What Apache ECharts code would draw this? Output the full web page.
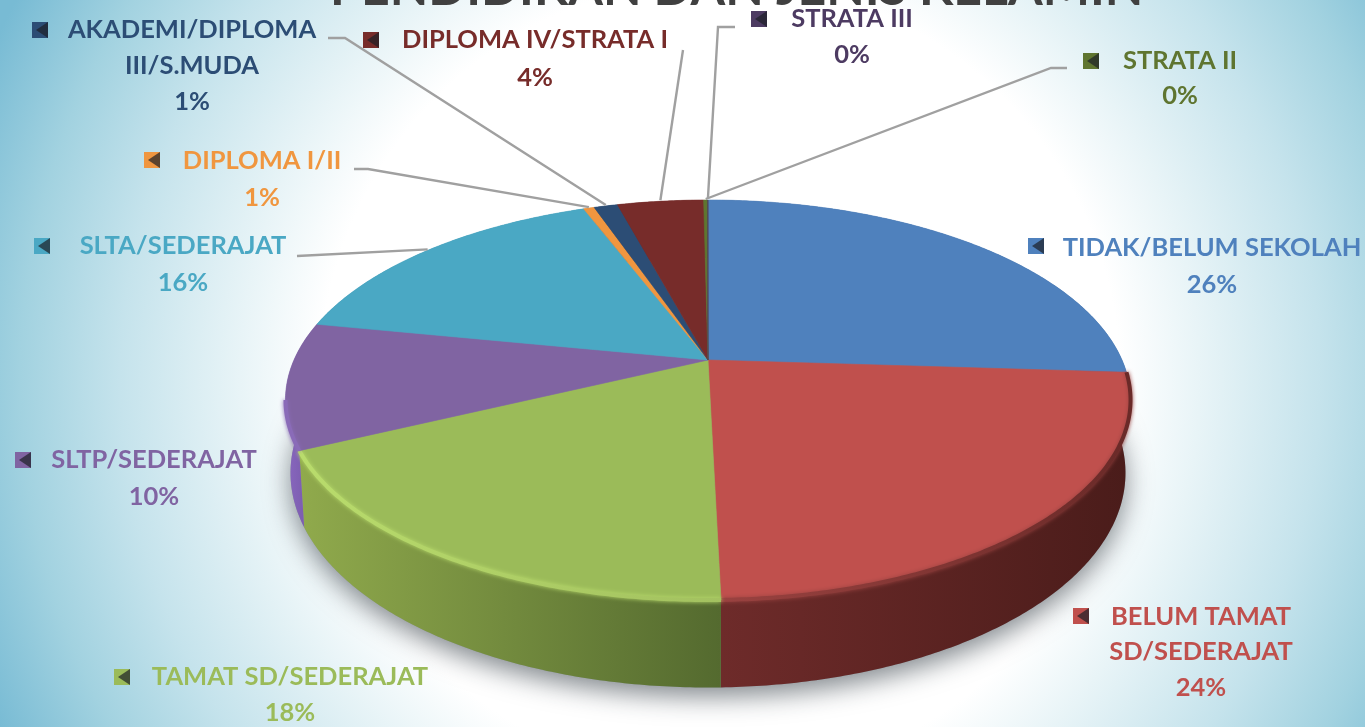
<!DOCTYPE html>
<html>
<head>
<meta charset="utf-8">
<style>
html,body{margin:0;padding:0;overflow:hidden;background:#fff}
#main{width:1365px;height:727px;filter:blur(0.6px)}
</style>
<script src="https://cdn.jsdelivr.net/npm/echarts@6/dist/echarts.min.js"></script>
</head>
<body>
<div id="main"></div>
<script>
// ---- data ----
var titleText = 'PENDIDIKAN DAN JENIS KELAMIN';
var categories = ['TIDAK/BELUM SEKOLAH','BELUM TAMAT\nSD/SEDERAJAT','TAMAT SD/SEDERAJAT','SLTP/SEDERAJAT','SLTA/SEDERAJAT','DIPLOMA I/II','AKADEMI/DIPLOMA\nIII/S.MUDA','DIPLOMA IV/STRATA I','STRATA II','STRATA III'];
var values = [26.0,23.6,18.3,10.2,16.1,0.5,1.1,4.0,0.19,0.01];
var colors = ['#4f81bd','#c0504d','#9bbb59','#8064a2','#4aa8c4','#f0963f','#2c4d75','#772c2a','#5f7530','#4d3b62'];
var wallColors = [['#3a5f8e','#3a5f8e'],['#6e2b2a','#4a1c1a'],['#90aa4c','#546a2f'],['#8a68c0','#6f53a0'],['#3b8aa0','#3b8aa0'],['#c77a34','#c77a34'],['#223c5c','#223c5c'],['#5c2220','#5c2220'],['#4a5b25','#4a5b25'],['#3c2e4d','#3c2e4d']];
var rimStops = [null,['#9a4240','#6a2a28'],['#b9dc6c','#a3c160'],['#8a6bb8','#8a6bb8'],null,null,null,null,null,null];

// ---- layout ----
var W = 1365, H = 727;
var CX = 708, CY = 360, RX = 414, RY = 192, PERSP = 0.2, DEPTH = 70, BOTTOM_SHRINK = 0.012;
var keyPos = [[1036,246],[1081,616],[122,677],[23,460],[42,246],[152,160],[40,30],[371,40],[1091,61],[759,19]];
var textCx = [1212,1201,290,154,183,262,192,535,1180,852];
var lineYs = [[248,285],[617,652,688],[677,713],[460,497],[246,283],[161,198],[30,66,102],[40,78],[61,96],[19,55]];
var leaderStart = [null,null,null,null,[[297,256]],[[354,169],[368,169]],[[328,38],[345,38]],[[683,50]],[[1067,68],[1051,68]],[[735,27],[718,27]]];
var FONT = 'bold 25.5px Lato, "Open Sans", sans-serif';

var total = values.reduce(function(a,b){return a+b;},0);
var cum = [0];
values.forEach(function(v,i){cum.push(cum[i]+v);});
var FRONT_B = Math.PI + Math.acos(PERSP);

function proj(theta,h){
  h=h||0;
  var X=Math.sin(theta),Y=-Math.cos(theta),D=1-PERSP*Y;
  return [CX+RX*X/D*(1-BOTTOM_SHRINK*h), CY+RY*Y/D+h*DEPTH/D];
}
function arc(a0,a1,h){
  var n=Math.max(2,Math.ceil(Math.abs(a1-a0)/0.01)),pts=[];
  for(var i=0;i<=n;i++){pts.push(proj(a0+(a1-a0)*i/n,h));}
  return pts;
}
function angles(idx,val){
  var a0=cum[idx]/total*Math.PI*2;
  return [a0,a0+val/total*Math.PI*2];
}

function renderWall(params,api){
  var i=params.dataIndex,a=angles(i,api.value(0));
  var top=arc(a[0],a[1],0),bot=arc(a[0],a[1],1).reverse();
  var poly=top.concat(bot);
  var xs=poly.map(function(p){return p[0];});
  var x0=Math.min.apply(null,xs),x1=Math.max.apply(null,xs);
  var children=[];
  if(i===0){
    children.push({type:'polygon',shape:{points:arc(0,Math.PI*2,1)},
      style:{fill:'#8f989e',shadowColor:'rgba(30,40,50,0.55)',shadowBlur:26,shadowOffsetY:9}});
  }
  children.push({type:'polygon',shape:{points:poly},style:{
    fill:new echarts.graphic.LinearGradient(x0,0,x1,0,[{offset:0,color:wallColors[i][0]},{offset:1,color:wallColors[i][1]}],true),
    stroke:null}});
  return {type:'group',children:children};
}

function renderTop(params,api){
  var i=params.dataIndex,a=angles(i,api.value(0));
  var pts=[[CX,CY]].concat(arc(a[0],a[1],0));
  var children=[{type:'polygon',shape:{points:pts},style:{fill:colors[i],stroke:colors[i],lineWidth:0.6}}];
  var r0=a[0],r1=Math.min(a[1],FRONT_B);
  if(rimStops[i]&&r1>r0){
    var rim=arc(r0,r1,0),xa=rim[0][0],xb=rim[rim.length-1][0];
    var x0=Math.min(xa,xb),x1=Math.max(xa,xb);
    children.push({type:'polyline',shape:{points:rim},style:{
      fill:null,lineWidth:4,shadowColor:rimStops[i][0],shadowBlur:4,
      stroke:new echarts.graphic.LinearGradient(x0,0,x1,0,[{offset:0,color:rimStops[i][0]},{offset:1,color:rimStops[i][1]}],true)}});
  }
  return {type:'group',children:children};
}

function renderLabel(params,api){
  var i=params.dataIndex,a=angles(i,api.value(0));
  var children=[];
  if(leaderStart[i]){
    var end=proj((a[0]+a[1])/2,0);
    children.push({type:'polyline',shape:{points:leaderStart[i].concat([[end[0],end[1]-1]])},
      style:{fill:null,stroke:'#a0a0a0',lineWidth:2.4}});
  }
  var k=keyPos[i],s=8;
  children.push({type:'rect',shape:{x:k[0]-s,y:k[1]-s,width:2*s,height:2*s},style:{fill:colors[i]}});
  children.push({type:'polygon',shape:{points:[[k[0]+s,k[1]-s],[k[0]+s,k[1]+s],[k[0]-4,k[1]]]},style:{fill:'#1d2026',opacity:0.7}});
  var lines=categories[i].split('\n').concat([Math.round(api.value(0))+'%']);
  lines.forEach(function(t,j){
    children.push({type:'text',style:{text:t,x:textCx[i],y:lineYs[i][j],align:'center',verticalAlign:'middle',font:FONT,fill:colors[i]}});
  });
  return {type:'group',children:children};
}

var chart=echarts.init(document.getElementById('main'),null,{renderer:'canvas',width:W,height:H});
var seriesData=values.map(function(v,i){return {value:[v],name:categories[i]};});
chart.setOption({
  animation:false,
  backgroundColor:new echarts.graphic.RadialGradient(720,380,800,[
    {offset:0,color:'#ffffff'},{offset:0.5,color:'#ffffff'},{offset:0.6,color:'#e8f4f7'},
    {offset:0.75,color:'#c5e3ec'},{offset:0.875,color:'#a2d2e0'},{offset:1,color:'#78bbd4'}],true),
  title:{text:titleText,left:325,top:-41,textStyle:{color:'#404040',fontFamily:'Lato',fontWeight:'bold',fontSize:50}},
  series:[
    {type:'custom',coordinateSystem:'none',name:'wall',silent:true,data:seriesData,renderItem:renderWall},
    {type:'custom',coordinateSystem:'none',name:'top',silent:true,data:seriesData,renderItem:renderTop},
    {type:'custom',coordinateSystem:'none',name:'labels',silent:true,data:seriesData,renderItem:renderLabel}
  ]
});
</script>
</body>
</html>
